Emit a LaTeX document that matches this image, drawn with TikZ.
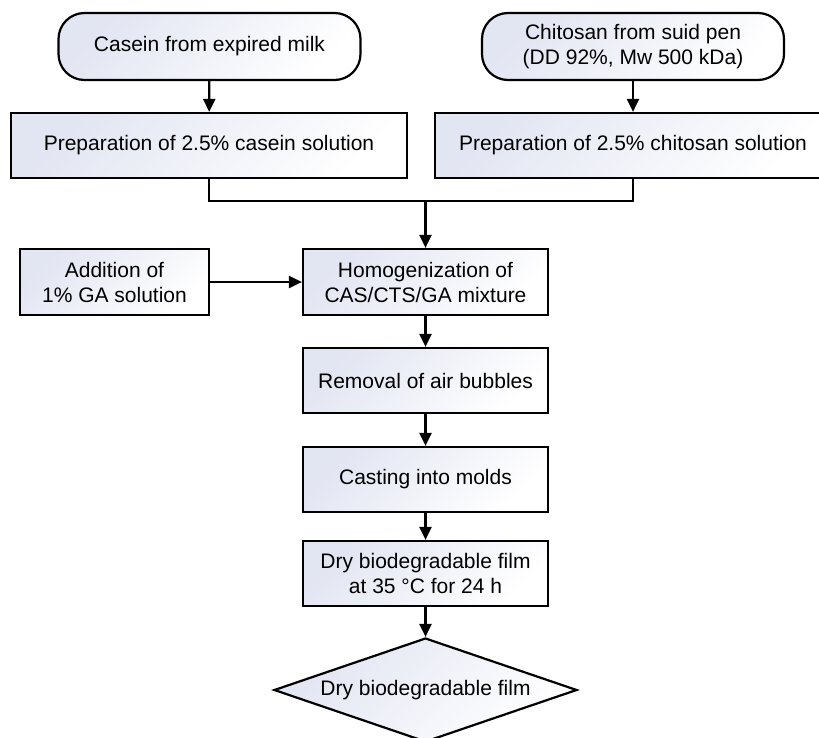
\documentclass[tikz,border=0pt]{standalone}
\usepackage{fontspec}
\setmainfont{Liberation Sans}
\usetikzlibrary{shapes.geometric}
\usetikzlibrary{arrows.meta}

\definecolor{boxshade}{HTML}{E2E5F2}

\begin{document}
\begin{tikzpicture}[
      x=0.5pt, y=-0.5pt,
      filled/.style={draw, line width=1.1pt, top color=boxshade, bottom color=white,
                     shading angle=45, font=\fontsize{10.5}{12.5}\selectfont,
                     align=center, inner sep=2pt},
      source/.style={filled, rectangle, rounded corners=13pt,
                     minimum width=151pt, minimum height=33.5pt},
      widebox/.style={filled, rectangle, minimum width=198pt, minimum height=32.5pt},
      stepbox/.style={filled, rectangle, minimum width=122.5pt, minimum height=33pt},
      result/.style={filled, diamond, aspect=2.9, inner sep=0pt,
                     minimum width=151.5pt, minimum height=52pt},
      >={Triangle[length=6.5pt, width=6pt]}, line width=1.1pt,
    ]
    \useasboundingbox (0,0) rectangle (819,738);
    \clip (0,0) rectangle (819,738);

    \node[source] (casein) at (209.5,46.5) {Casein from expired milk};
    \node[source] (chitosan) at (633,46.5) {Chitosan from suid pen\\(DD 92\%, Mw 500 kDa)};

    \node[widebox] (casprep) at (209,145.5) {Preparation of 2.5\% casein solution};
    \node[widebox] (ctsprep) at (633,145.5) {Preparation of 2.5\% chitosan solution};

    \node[filled, rectangle, minimum width=94.5pt, minimum height=33pt] (addga)
      at (114.5,282) {Addition of\\1\% GA solution};
    \node[stepbox] (homog) at (425.5,282) {Homogenization of\\CAS/CTS/GA mixture};
    \node[stepbox, minimum height=32.5pt] (bubbles) at (425.5,380.5) {Removal of air bubbles};
    \node[stepbox, minimum height=32.5pt] (casting) at (425.5,479.5) {Casting into molds};
    \node[stepbox, minimum height=32.5pt] (drying) at (425.5,573.5) {Dry biodegradable film\\at 35 °C for 24 h};
    \node[result] (film) at (425.5,690) {Dry biodegradable film};

    \coordinate (merge) at (425.5,201);

    % the two sources
    \draw[->] (casein) -- (casprep);
    \draw[->] (chitosan) -- (ctsprep);

    % both solutions meet, then go down
    \draw (casprep.south) |- (merge) -| (ctsprep.south);
    \draw[->] (merge) -- (homog.north);
    \draw[->] (addga) -- (homog);

    % main line
    \draw[->] (homog) -- (bubbles);
    \draw[->] (bubbles) -- (casting);
    \draw[->] (casting) -- (drying);
    \draw[->] (drying) -- (film.north);
\end{tikzpicture}
\end{document}
